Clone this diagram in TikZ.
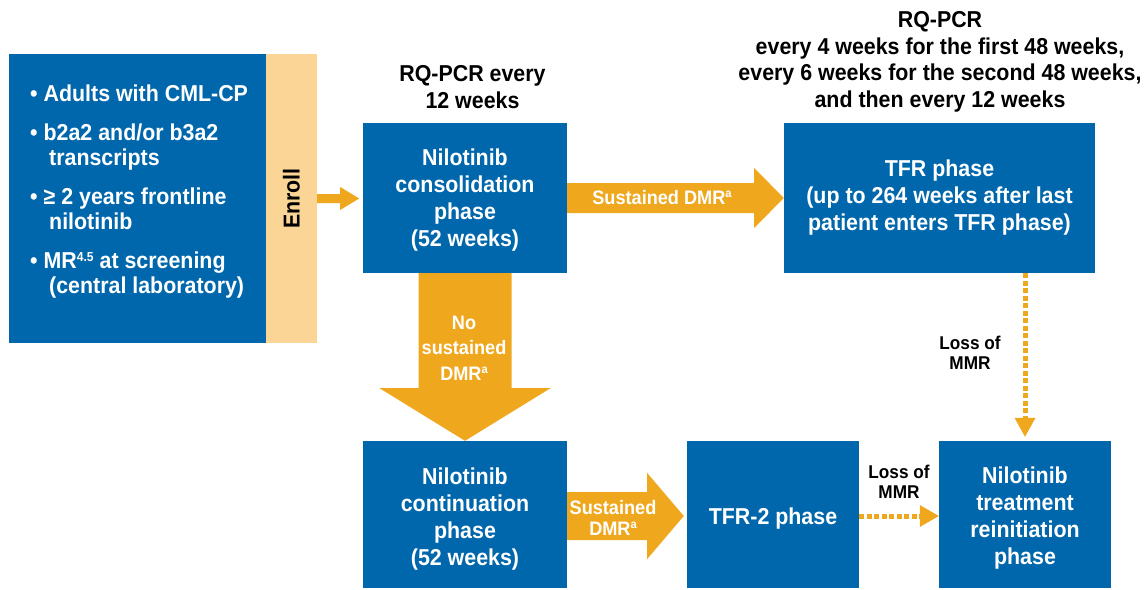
\documentclass[tikz,border=0pt]{standalone}
\usepackage{fontspec}
\setmainfont[FakeStretch=0.93]{Liberation Sans}
\usetikzlibrary{calc}
\definecolor{nvblue}{RGB}{0,103,172}
\definecolor{nvorange}{RGB}{239,168,29}
\definecolor{nvpeach}{RGB}{250,213,150}
\newcommand\mysup[2]{\raisebox{7pt}{\fontsize{#1}{#1}\selectfont #2}}
\begin{document}
\begin{tikzpicture}[x=1pt,y=-1pt,
  phase/.style={fill=nvblue, inner sep=0pt},
  phasetext/.style={text=white, align=center, inner sep=0pt,
    font=\bfseries\fontsize{23}{27}\selectfont},
  head/.style={text=black, align=center, inner sep=0pt,
    font=\bfseries\fontsize{23}{26.5}\selectfont},
  listtext/.style={text=white, align=left, inner sep=0pt,
    font=\bfseries\fontsize{23}{25}\selectfont},
  lab/.style={text=white, align=center, inner sep=0pt,
    font=\bfseries\fontsize{19.5}{25.5}\selectfont},
  labtight/.style={text=white, align=center, inner sep=0pt,
    font=\bfseries\fontsize{19.5}{20.5}\selectfont},
  loss/.style={text=black, align=center, inner sep=0pt,
    font=\bfseries\fontsize{18.5}{20}\selectfont},
  blockarrow/.style={fill=nvorange, draw=none},
  dotarrow/.style={draw=nvorange, line width=5pt, dash pattern=on 5pt off 2.5pt},
]
\useasboundingbox (0,0) rectangle (1148,589);

% inclusion criteria and enroll strip
\node[fill=nvblue, minimum width=257pt, minimum height=289pt, inner sep=0pt] (crit) at (137.5,198.5) {};
\node[fill=nvpeach, minimum width=51pt, minimum height=289pt, inner sep=0pt] (enrollbox) at (291.5,198.5) {};
\node[head, rotate=90] (enroll) at (enrollbox.center) {Enroll};

\node[listtext, anchor=north west] (list) at (30,85) {%
• Adults with CML-CP\\[14pt]
• b2a2 and/or b3a2\\
\hspace*{19pt}transcripts\\[14pt]
• ≥ 2 years frontline\\
\hspace*{19pt}nilotinib\\[14pt]
• MR\mysup{13}{4.5} at screening\\
\hspace*{19pt}(central laboratory)};

% phase boxes
\node[phase, minimum width=204pt, minimum height=150pt] (cons) at (465,198) {};
\node[phasetext] (consT) at ($(cons.center)+(0,2)$)
  {Nilotinib\\consolidation\\phase\\(52 weeks)};
\node[phase, minimum width=311pt, minimum height=150pt] (tfr) at (939.5,198) {};
\node[phasetext] (tfrT) at ($(tfr.center)+(0,-0.5)$)
  {TFR phase\\(up to 264 weeks after last\\patient enters TFR phase)};
\node[phase, minimum width=204pt, minimum height=147pt] (cont) at (465,514.5) {};
\node[phasetext] (contT) at ($(cont.center)+(0,4.5)$)
  {Nilotinib\\continuation\\phase\\(52 weeks)};
\node[phase, minimum width=172pt, minimum height=147pt] (tfr2) at (773,514.5) {};
\node[phasetext] (tfr2T) at ($(tfr2.center)+(0,4.5)$) {TFR-2 phase};
\node[phase, minimum width=172pt, minimum height=147pt] (reinit) at (1025,514.5) {};
\node[phasetext] (reinitT) at ($(reinit.center)+(0,4)$)
  {Nilotinib\\treatment\\reinitiation\\phase};

% headers
\node[head] (hdr1) at (472.5,87) {RQ-PCR every\\12 weeks};
\node[head] (hdr2) at (940,62) {RQ-PCR\\every 4 weeks for the first 48 weeks,\\every 6 weeks for the second 48 weeks,\\and then every 12 weeks};

% enroll arrow
\fill[blockarrow] ($(enrollbox.east)+(0,-4.5)$) -- ($(enrollbox.east)+(23,-4.5)$)
  -- ($(enrollbox.east)+(23,-11.5)$) -- ($(enrollbox.east)+(42,0)$)
  -- ($(enrollbox.east)+(23,11.5)$) -- ($(enrollbox.east)+(23,4.5)$)
  -- ($(enrollbox.east)+(0,4.5)$) -- cycle;

% sustained DMR (top)
\fill[blockarrow] ($(cons.east)+(0,-15)$) -- ($(cons.east)+(187,-15)$)
  -- ($(cons.east)+(187,-30)$) -- (tfr.west)
  -- ($(cons.east)+(187,30)$) -- ($(cons.east)+(187,15)$)
  -- ($(cons.east)+(0,15)$) -- cycle;
\node[lab] (l1) at (662,198) {Sustained DMR\mysup{12}{a}};

% no sustained DMR (down)
\fill[blockarrow] ($(cons.south)+(-46.5,0)$) -- ($(cons.south)+(-46.5,115)$)
  -- ($(cons.south)+(-85.5,115)$) -- (cont.north)
  -- ($(cons.south)+(85.5,115)$) -- ($(cons.south)+(46.5,115)$)
  -- ($(cons.south)+(46.5,0)$) -- cycle;
\node[lab] (l2) at (464,348) {No\\sustained\\DMR\mysup{12}{a}};

% sustained DMR (bottom)
\fill[blockarrow] ($(cont.east)+(0,-22.5)$) -- ($(cont.east)+(80,-22.5)$)
  -- ($(cont.east)+(80,-41.5)$) -- ($(tfr2.west)+(-3,1.5)$)
  -- ($(cont.east)+(80,44.5)$) -- ($(cont.east)+(80,25.5)$)
  -- ($(cont.east)+(0,25.5)$) -- cycle;
\node[labtight] (l3) at (613,518) {Sustained\\DMR\mysup{12}{a}};

% loss of MMR (vertical)
\draw[dotarrow] (tfr.south -| reinit.north) -- ($(reinit.north)+(0,-23)$);
\fill[nvorange] ($(reinit.north)+(-10.5,-23)$) -- ($(reinit.north)+(10.5,-23)$)
  -- ($(reinit.north)+(0,-4)$) -- cycle;
\node[loss] (l4) at (970,353) {Loss of\\MMR};

% loss of MMR (horizontal)
\draw[dotarrow] ($(tfr2.east)+(0,1.5)$) -- ($(reinit.west)+(-19,1.5)$);
\fill[nvorange] ($(reinit.west)+(-19,-9.5)$) -- ($(reinit.west)+(-19,12.5)$)
  -- ($(reinit.west)+(0,1.5)$) -- cycle;
\node[loss] (l5) at (899,482) {Loss of\\MMR};
\end{tikzpicture}
\end{document}
